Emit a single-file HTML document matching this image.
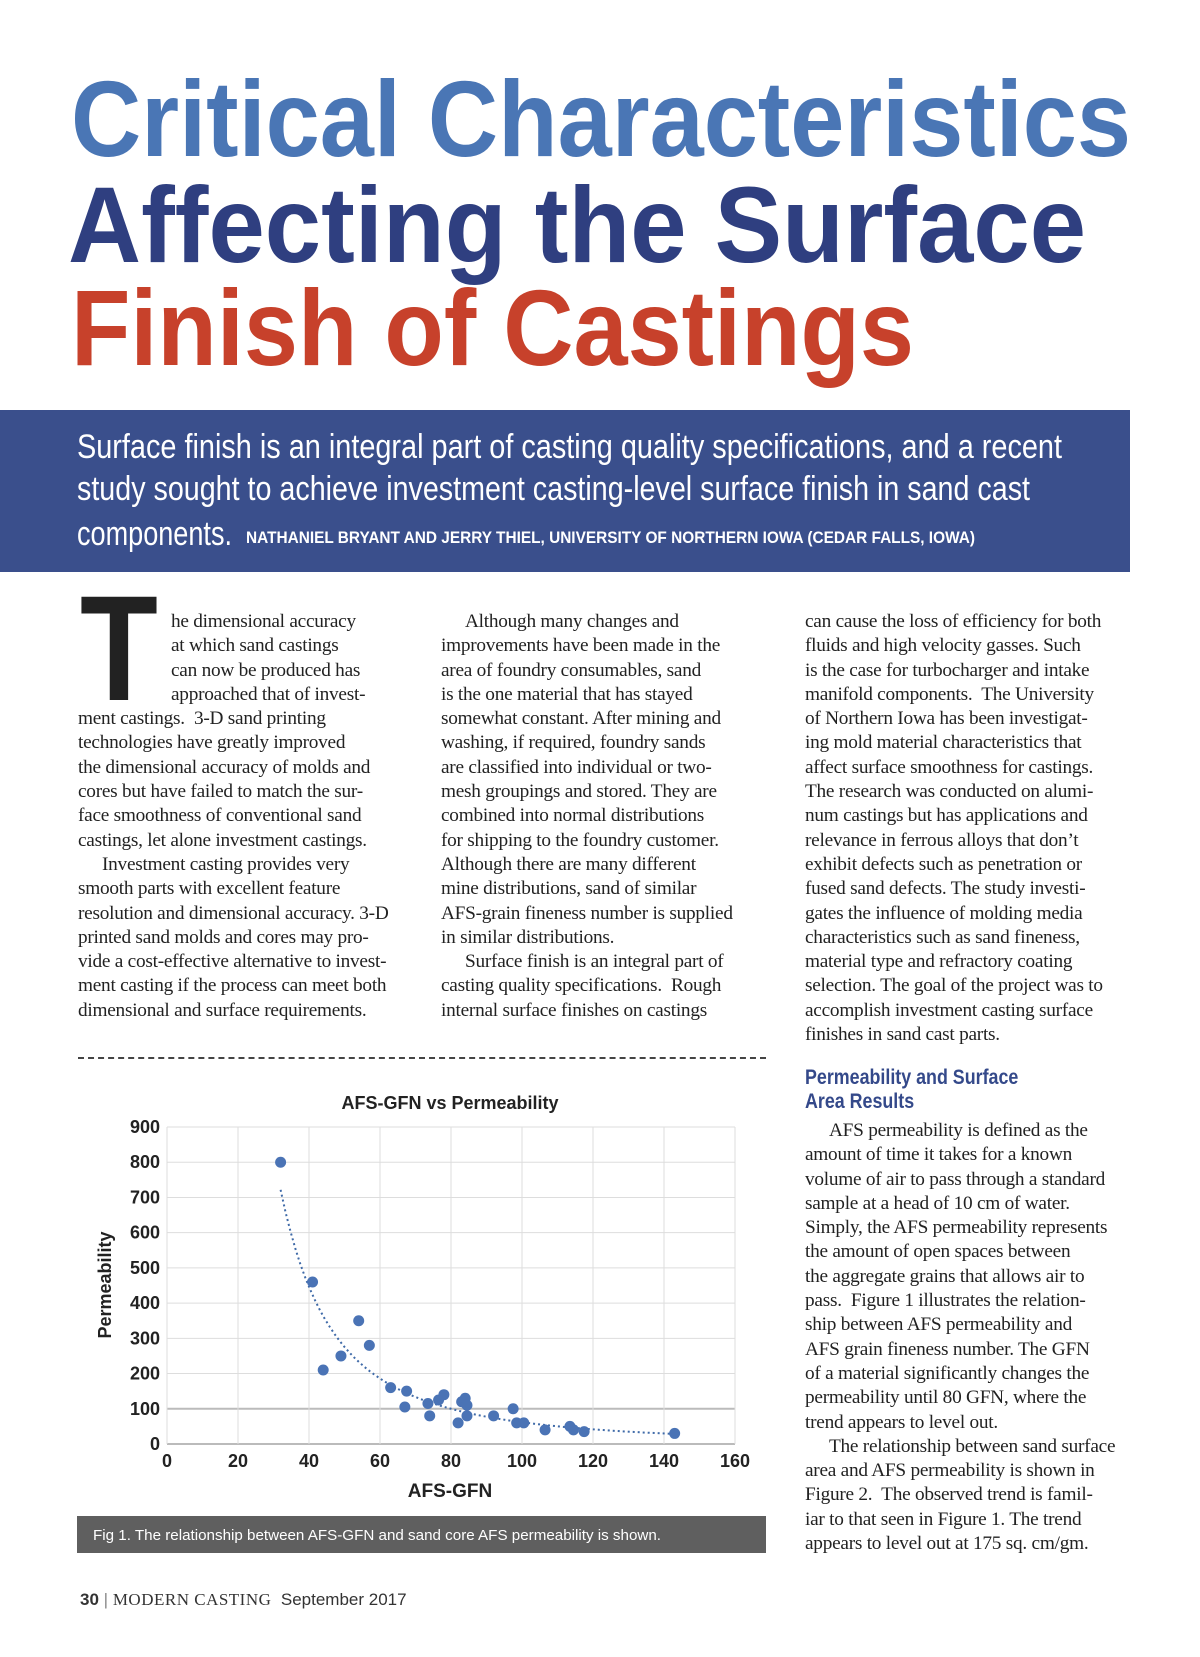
<!DOCTYPE html>
<html><head><meta charset="utf-8"><style>
body{margin:0;background:#fff;}
#page{position:relative;width:1200px;height:1657px;overflow:hidden;background:#fff;font-family:"Liberation Serif",serif;}
.col{position:absolute;font-size:19.3px;line-height:24.3px;color:#222;letter-spacing:-0.25px;white-space:nowrap;}
.col div{height:24.3px;}
.ind{padding-left:24px;}
</style></head><body>
<div id="page">
<svg width="1200" height="580" style="position:absolute;left:0;top:0">
 <g font-family="Liberation Sans, sans-serif" font-weight="bold" font-size="108">
  <text x="71" y="156" fill="#4a76b5" textLength="1060" lengthAdjust="spacingAndGlyphs">Critical Characteristics</text>
  <text x="68" y="262" fill="#2f3f80" textLength="1018" lengthAdjust="spacingAndGlyphs">Affecting the Surface</text>
  <text x="71" y="365" fill="#c7412b" textLength="843" lengthAdjust="spacingAndGlyphs">Finish of Castings</text>
 </g>
 <rect x="0" y="410" width="1130" height="162" fill="#3a4f8c"/>
 <g font-family="Liberation Sans, sans-serif" fill="#fff" font-size="34">
  <text x="77" y="458" textLength="985" lengthAdjust="spacingAndGlyphs">Surface finish is an integral part of casting quality specifications, and a recent</text>
  <text x="77" y="500" textLength="953" lengthAdjust="spacingAndGlyphs">study sought to achieve investment casting-level surface finish in sand cast</text>
  <text x="77" y="545" textLength="155" lengthAdjust="spacingAndGlyphs">components.</text>
  <text x="246" y="543" font-size="17" font-weight="bold" textLength="729" lengthAdjust="spacingAndGlyphs">NATHANIEL BRYANT AND JERRY THIEL, UNIVERSITY OF NORTHERN IOWA (CEDAR FALLS, IOWA)</text>
 </g>
</svg>
<div style="position:absolute;left:80px;top:588px;font-family:'Liberation Sans',sans-serif;font-weight:bold;font-size:150px;line-height:120px;color:#222;transform:scaleX(0.85);transform-origin:left top">T</div>
<div class="col" style="left:78px;top:610px">
<div style="padding-left:93px">he dimensional accuracy</div>
<div style="padding-left:93px">at which sand castings</div>
<div style="padding-left:93px">can now be produced has</div>
<div style="padding-left:93px">approached that of invest-</div>
<div>ment castings.&nbsp; 3-D sand printing</div>
<div>technologies have greatly improved</div>
<div>the dimensional accuracy of molds and</div>
<div>cores but have failed to match the sur-</div>
<div>face smoothness of conventional sand</div>
<div>castings, let alone investment castings.</div>
<div class="ind">Investment casting provides very</div>
<div>smooth parts with excellent feature</div>
<div>resolution and dimensional accuracy. 3-D</div>
<div>printed sand molds and cores may pro-</div>
<div>vide a cost-effective alternative to invest-</div>
<div>ment casting if the process can meet both</div>
<div>dimensional and surface requirements.</div>
</div>
<div class="col" style="left:441px;top:610px">
<div class="ind">Although many changes and</div>
<div>improvements have been made in the</div>
<div>area of foundry consumables, sand</div>
<div>is the one material that has stayed</div>
<div>somewhat constant. After mining and</div>
<div>washing, if required, foundry sands</div>
<div>are classified into individual or two-</div>
<div>mesh groupings and stored. They are</div>
<div>combined into normal distributions</div>
<div>for shipping to the foundry customer.</div>
<div>Although there are many different</div>
<div>mine distributions, sand of similar</div>
<div>AFS-grain fineness number is supplied</div>
<div>in similar distributions.</div>
<div class="ind">Surface finish is an integral part of</div>
<div>casting quality specifications.&nbsp; Rough</div>
<div>internal surface finishes on castings</div>
</div>
<div class="col" style="left:805px;top:610px">
<div>can cause the loss of efficiency for both</div>
<div>fluids and high velocity gasses. Such</div>
<div>is the case for turbocharger and intake</div>
<div>manifold components.&nbsp; The University</div>
<div>of Northern Iowa has been investigat-</div>
<div>ing mold material characteristics that</div>
<div>affect surface smoothness for castings.</div>
<div>The research was conducted on alumi-</div>
<div>num castings but has applications and</div>
<div>relevance in ferrous alloys that don’t</div>
<div>exhibit defects such as penetration or</div>
<div>fused sand defects. The study investi-</div>
<div>gates the influence of molding media</div>
<div>characteristics such as sand fineness,</div>
<div>material type and refractory coating</div>
<div>selection. The goal of the project was to</div>
<div>accomplish investment casting surface</div>
<div>finishes in sand cast parts.</div>
</div>
<div style="position:absolute;left:805px;top:1066px;font-family:'Liberation Sans',sans-serif;font-weight:bold;font-size:21px;line-height:24px;color:#34498a;transform:scaleX(0.85);transform-origin:left top;white-space:nowrap">Permeability and Surface<br>Area Results</div>
<div class="col" style="left:805px;top:1119px">
<div class="ind">AFS permeability is defined as the</div>
<div>amount of time it takes for a known</div>
<div>volume of air to pass through a standard</div>
<div>sample at a head of 10 cm of water.</div>
<div>Simply, the AFS permeability represents</div>
<div>the amount of open spaces between</div>
<div>the aggregate grains that allows air to</div>
<div>pass.&nbsp; Figure 1 illustrates the relation-</div>
<div>ship between AFS permeability and</div>
<div>AFS grain fineness number. The GFN</div>
<div>of a material significantly changes the</div>
<div>permeability until 80 GFN, where the</div>
<div>trend appears to level out.</div>
<div class="ind">The relationship between sand surface</div>
<div>area and AFS permeability is shown in</div>
<div>Figure 2.&nbsp; The observed trend is famil-</div>
<div>iar to that seen in Figure 1. The trend</div>
<div>appears to level out at 175 sq. cm/gm.</div>
</div>
<div style="position:absolute;left:78px;top:1057px;width:688px;border-top:2px dashed #444"></div>

<svg id="chart" width="1200" height="1657" style="position:absolute;left:0;top:0" font-family="Liberation Sans, sans-serif">
 <rect x="77" y="1516" width="689" height="37" fill="#5f5f5f"/>
 <text x="93" y="1540" fill="#fff" font-size="15" textLength="568" lengthAdjust="spacingAndGlyphs">Fig 1. The relationship between AFS-GFN and sand core AFS permeability is shown.</text>
 <text x="450" y="1109" text-anchor="middle" font-size="18" font-weight="bold" fill="#222">AFS-GFN vs Permeability</text>
 <text x="450" y="1497" text-anchor="middle" font-size="19" font-weight="bold" fill="#222">AFS-GFN</text>
 <text transform="translate(111,1285) rotate(-90)" text-anchor="middle" font-size="18" font-weight="bold" fill="#222">Permeability</text>
 <g id="grid"></g><g id="trend"></g><g id="pts"></g>
</svg>
<div style="position:absolute;left:80px;top:1590px;font-size:17px;color:#333;font-family:'Liberation Sans',sans-serif;white-space:nowrap"><b>30</b> <span style="color:#888">|</span> <span style="font-family:'Liberation Serif',serif;letter-spacing:0.5px">MODERN CASTING</span>&nbsp; September 2017</div>
</div>
<script>
const xTicks=[0,20,40,60,80,100,120,140,160];
const yTicks=[0,100,200,300,400,500,600,700,800,900];
const gfn=[32,41,44,49,54,57,63,67,67.5,73.5,74,76.5,78,82,83,84,84.5,84.5,92,97.5,98.5,100.5,106.5,113.5,114.5,117.5,143];
const perm=[800,460,210,250,350,280,160,105,150,115,80,125,140,60,120,130,110,80,80,100,60,60,40,50,40,35,30];
const X0=167,X1=735,Y0=1444,Y1=1127;
function sx(v){return X0+(v-0)/(160-0)*(X1-X0);}
function sy(v){return Y0-(v-0)/(900-0)*(Y0-Y1);}
const NS='http://www.w3.org/2000/svg';
function mk(t,a,p){const e=document.createElementNS(NS,t);for(const k in a)e.setAttribute(k,a[k]);p.appendChild(e);return e;}
const grid=document.getElementById('grid');
yTicks.forEach(v=>{
 const l=mk('line',{x1:X0,x2:X1,y1:sy(v),y2:sy(v),stroke:(v===0||v===100)?'#bbb':'#ddd','stroke-width':(v===0||v===100)?2:1},grid);
 
 
 const t=mk('text',{x:160,y:sy(v)+6,'text-anchor':'end','font-size':18,'font-weight':'bold',fill:'#222'},grid);
 t.textContent=v;
 
 
});
xTicks.forEach(v=>{
 const l=mk('line',{x1:sx(v),x2:sx(v),y1:Y1,y2:Y0,stroke:'#ddd','stroke-width':1},grid);
 
 
 const t=mk('text',{x:sx(v),y:1467,'text-anchor':'middle','font-size':18,'font-weight':'bold',fill:'#222'},grid);
 t.textContent=v;
 
 
});
let n=gfn.length,sl=0,sly=0,slxx=0,slxy=0;
for(let i=0;i<n;i++){const lx=Math.log(gfn[i]),ly=Math.log(perm[i]);sl+=lx;sly+=ly;slxx+=lx*lx;slxy+=lx*ly;}
const b=(n*slxy-sl*sly)/(n*slxx-sl*sl),a=Math.exp((sly-b*sl)/n);
const xmin=Math.min(...gfn),xmax=Math.max(...gfn);
let d='';
for(let k=0;k<=80;k++){const xv=xmin+(xmax-xmin)*k/80;d+=(k?'L':'M')+sx(xv).toFixed(1)+','+sy(a*Math.pow(xv,b)).toFixed(1);}
const tr=mk('path',{d:d,fill:'none',stroke:'#3f6aa8','stroke-width':2,'stroke-dasharray':'2,3'},document.getElementById('trend'));


const pts=document.getElementById('pts');
gfn.forEach((x,i)=>{
 const c=mk('circle',{cx:sx(x),cy:sy(perm[i]),r:5.5,fill:'#4a73b5'},pts);
 
 
});
</script>
</body></html>
